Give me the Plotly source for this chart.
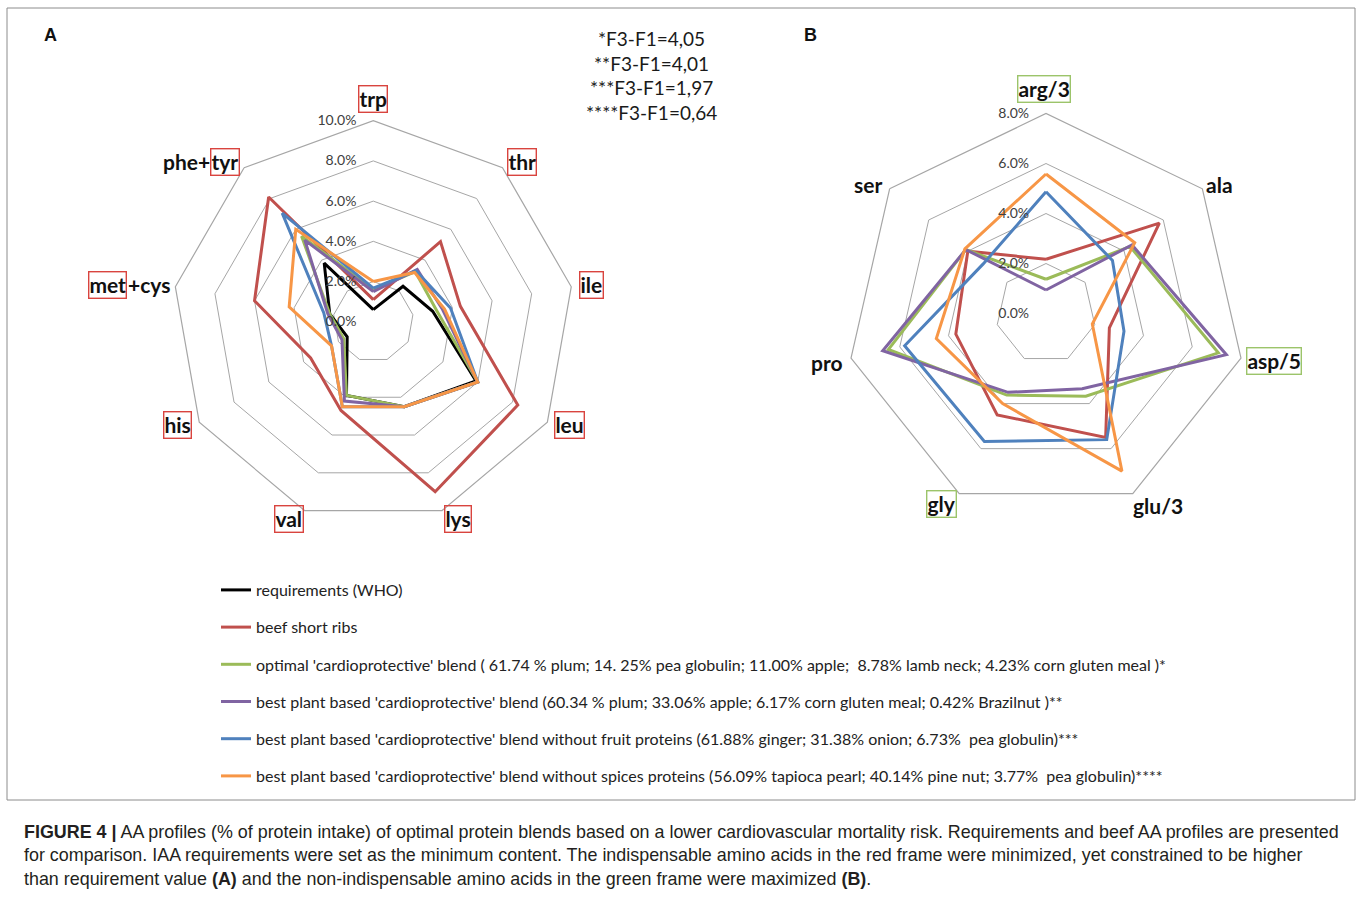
import plotly.graph_objects as go

W, H = 1362, 900

# ---------------- data ----------------
cats_A = ['trp', 'thr', 'ile', 'leu', 'lys', 'val', 'his', 'met+cys', 'phe+tyr']
who_A = [0.6, 2.3, 3.0, 5.9, 4.5, 3.9, 1.5, 2.2, 3.8]
beef_A = [1.1, 5.2, 4.4, 8.3, 9.0, 4.7, 3.6, 6.0, 8.1]
optimal_A = [1.6, 3.25, 3.2, 6.0, 4.5, 3.9, 1.7, 2.2, 5.55]
plant_A = [1.5, 3.4, 3.5, 6.0, 4.5, 4.2, 1.8, 2.3, 5.3]
nofruit_A = [1.67, 3.3, 3.9, 6.0, 4.5, 4.5, 2.4, 2.5, 7.05]
nospice_A = [2.0, 3.2, 3.6, 6.0, 4.5, 4.5, 2.4, 4.25, 6.0]

cats_B = ['arg/3', 'ala', 'asp/5', 'glu/3', 'gly', 'pro', 'ser']
beef_B = [2.17, 5.8, 2.6, 5.5, 4.5, 3.7, 4.0]
optimal_B = [1.37, 4.3, 7.07, 3.67, 3.62, 6.47, 4.1]
plant_B = [0.94, 4.4, 7.4, 3.34, 3.5, 6.7, 4.1]
nofruit_B = [4.87, 3.4, 3.2, 5.6, 5.68, 5.8, 3.2]
nospice_B = [5.58, 4.54, 1.9, 7.0, 4.0, 4.5, 4.15]

ticks_A = [0, 2, 4, 6, 8, 10]
ticks_B = [0, 2, 4, 6, 8]

series_names = [
    "requirements (WHO)",
    "beef short ribs",
    "optimal 'cardioprotective' blend ( 61.74 % plum; 14. 25% pea globulin; 11.00% apple;  8.78% lamb neck; 4.23% corn gluten meal )*",
    "best plant based 'cardioprotective' blend (60.34 % plum; 33.06% apple; 6.17% corn gluten meal; 0.42% Brazilnut )**",
    "best plant based 'cardioprotective' blend without fruit proteins (61.88% ginger; 31.38% onion; 6.73%  pea globulin)***",
    "best plant based 'cardioprotective' blend without spices proteins (56.09% tapioca pearl; 40.14% pine nut; 3.77%  pea globulin)****",
]
series_colors = ['#000000', '#C0504D', '#9BBB59', '#8064A2', '#4F81BD', '#F79646']
values_A = [who_A, beef_A, optimal_A, plant_A, nofruit_A, nospice_A]
values_B = [None, beef_B, optimal_B, plant_B, nofruit_B, nospice_B]

ftext = ["*F3-F1=4,05", "**F3-F1=4,01", "***F3-F1=1,97", "****F3-F1=0,64"]

caption = [
    "<b>FIGURE 4 |</b> AA profiles (% of protein intake) of optimal protein blends based on a lower cardiovascular mortality risk. Requirements and beef AA profiles are presented",
    "for comparison. IAA requirements were set as the minimum content. The indispensable amino acids in the red frame were minimized, yet constrained to be higher",
    "than requirement value <b>(A)</b> and the non-indispensable amino acids in the green frame were maximized <b>(B)</b>.",
]


def px(x):
    return x / W


def py(y):
    return 1 - y / H


fig = go.Figure()

for name, col, va, vb in zip(series_names, series_colors, values_A, values_B):
    fig.add_trace(go.Scatterpolar(
        r=va + va[:1], theta=cats_A + cats_A[:1], mode='lines', name=name,
        legendgroup=name, line=dict(color=col, width=3), subplot='polar'))
    if vb is not None:
        fig.add_trace(go.Scatterpolar(
            r=vb + vb[:1], theta=cats_B + cats_B[:1], mode='lines', name=name,
            legendgroup=name, showlegend=False, line=dict(color=col, width=3),
            subplot='polar2'))

GRID = '#A6A6A6'
TICKFONT = dict(family='Lato', size=14, color='#404040')
PAD = '\u00a0' * 4


def polar_cfg(cx, cy, rad, rng, tv, cats):
    return dict(
        domain=dict(x=[px(cx - rad), px(cx + rad)], y=[py(cy + rad), py(cy - rad)]),
        gridshape='linear', bgcolor='rgba(0,0,0,0)',
        radialaxis=dict(range=rng, tickmode='array', tickvals=tv,
                        ticktext=['%.1f%%%s' % (v, PAD) for v in tv],
                        angle=90, tickangle=90, side='counterclockwise', showline=False,
                        gridcolor=GRID, gridwidth=1.2, ticks='', tickfont=TICKFONT),
        angularaxis=dict(categoryorder='array', categoryarray=cats,
                         direction='clockwise', rotation=90, showticklabels=False,
                         showgrid=False, showline=True, linecolor=GRID, linewidth=1.2,
                         ticks=''),
    )


fig.update_layout(
    width=W, height=H, autosize=False,
    margin=dict(l=0, r=0, t=0, b=0),
    paper_bgcolor='white', plot_bgcolor='white',
    polar=polar_cfg(373.3, 321.7, 201, [0, 10], ticks_A, cats_A),
    polar2=polar_cfg(1046, 313.5, 200, [0, 8], ticks_B, cats_B),
    legend=dict(x=px(216), y=py(573), xanchor='left', yanchor='top',
                font=dict(family='Lato', size=16, color='#222222'),
                tracegroupgap=13.4, traceorder='grouped', itemwidth=30,
                bgcolor='rgba(0,0,0,0)'),
    showlegend=True,
)

RED = '#D9443F'
GREEN = '#9CC46A'
ann = []


def lab(text, x, y, box=None, xanchor='center'):
    d = dict(text='<b>%s</b>' % text, x=px(x), y=py(y), xref='paper', yref='paper',
             showarrow=False, xanchor=xanchor, yanchor='middle',
             font=dict(family='Lato', size=21, color='#111111'))
    if box:
        d.update(bordercolor=box, borderwidth=1.4, borderpad=0)
    ann.append(d)


# panel A labels
lab('trp', 373.3, 98.8, RED)
lab('thr', 522.3, 161.7, RED)
lab('ile', 591.5, 284.5, RED)
lab('leu', 569, 425.5, RED)
lab('lys', 458, 519.2, RED)
lab('val', 288.7, 519.2, RED)
lab('his', 177.5, 425.3, RED)
lab('met', 107.5, 284.5, RED)
lab('+cys', 125.5, 284.5, None, xanchor='left')
lab('tyr', 225.3, 161.7, RED)
lab('phe+', 212, 161.7, None, xanchor='right')
# panel B labels
lab('arg/3', 1043.7, 89, GREEN)
lab('ala', 1219.8, 184)
lab('asp/5', 1274, 361, GREEN)
lab('glu/3', 1158, 505)
lab('gly', 941, 504, GREEN)
lab('pro', 826.7, 362)
lab('ser', 867.5, 184)

# panel letters
for t, x in (('A', 50), ('B', 810)):
    ann.append(dict(text='<b>%s</b>' % t, x=px(x), y=py(35.5), xref='paper', yref='paper',
                    showarrow=False, xanchor='center', yanchor='middle',
                    font=dict(family='Liberation Sans', size=18, color='#111111')))

# F3-F1 notes
for i, t in enumerate(ftext):
    ann.append(dict(text=t, x=px(651), y=py(38 + i * 25), xref='paper', yref='paper',
                    showarrow=False, xanchor='center', yanchor='middle',
                    font=dict(family='Lato', size=19, color='#1a1a1a')))

# caption
for i, t in enumerate(caption):
    ann.append(dict(text=t, x=px(22), y=py(831.5 + i * 23.5), xref='paper', yref='paper',
                    showarrow=False, xanchor='left', yanchor='middle',
                    font=dict(family='Liberation Sans', size=17.9, color='#231F20')))

fig.update_layout(annotations=ann)

fig.add_shape(type='rect', xref='paper', yref='paper',
              x0=px(7), x1=px(1355), y0=py(800), y1=py(8),
              line=dict(color='#8C8C8C', width=1), layer='below')

fig.write_html('out.html', config={'displayModeBar': False},
               post_script="document.body.style.margin='0px';")
